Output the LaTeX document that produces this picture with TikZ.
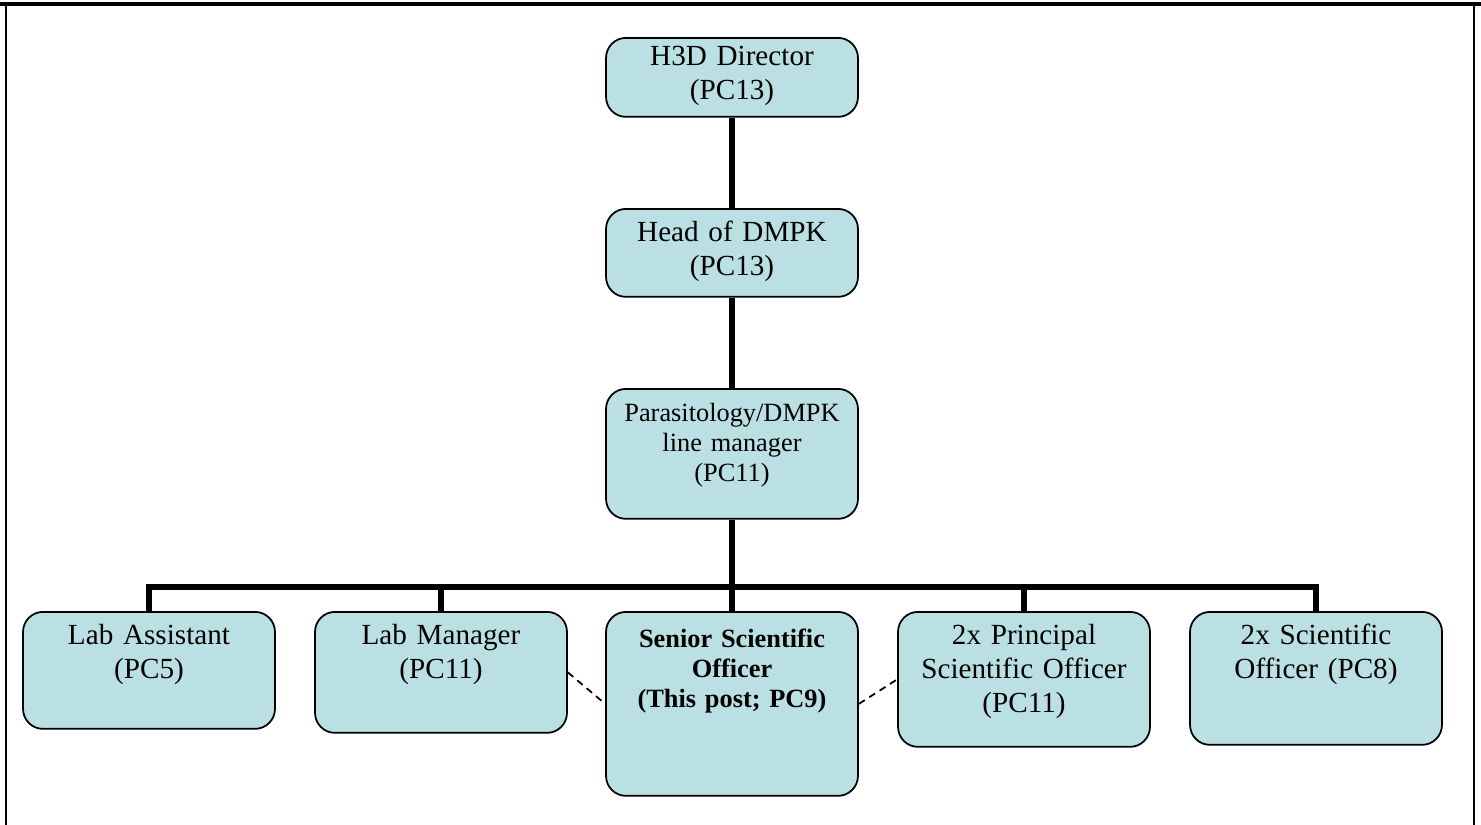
\documentclass[tikz,border=0pt]{standalone}
\usepackage{fontspec}
\setmainfont{Liberation Serif}
\usetikzlibrary{calc}

\definecolor{postfill}{RGB}{187,224,227}

\begin{document}
\begin{tikzpicture}[x=0.02cm,y=-0.02cm,
  post/.style={draw=black,line width=1pt,fill=postfill,rounded corners=0.4cm,
    anchor=north,text width=4.84cm,align=center,inner xsep=0.1cm,inner ysep=0pt,
    text height=0.66cm,font=\fontsize{16.6}{19.3}\selectfont},
  tight/.style={font=\fontsize{15}{17}\selectfont},
  tree/.style={line width=3pt},
  link/.style={line width=1pt,dash pattern=on 4pt off 3pt}]
\useasboundingbox (0,0) rectangle (1481,825);

% Define column and row positions (pixels of the page)
\def\colA{149}
\def\colB{441}
\def\colC{732}
\def\colD{1024}
\def\colE{1316}
\def\rowkids{611}

% Page frame
\draw[line width=2.4pt] (0,4) -- (1481,4);
\draw[line width=1pt] (6,4) -- (6,825);
\draw[line width=1pt] (1474,4) -- (1474,825);

% Top of the line
\node[post,text height=0.56cm,text depth=1.02cm] (dir) at (\colC,37) {H3D Director\\(PC13)};
\node[post,text depth=1.10cm] (head) at (\colC,208) {Head of DMPK\\(PC13)};
\node[post,tight,text depth=1.94cm] (para) at (\colC,388) {Parasitology/DMPK\\line manager\\(PC11)};

% Staff reporting to the line manager
\node[post,text depth=1.68cm] (la) at (\colA,\rowkids) {Lab Assistant\\(PC5)};
\node[post,text depth=1.76cm] (lm) at (\colB,\rowkids) {Lab Manager\\(PC11)};
\node[post,tight,text height=0.72cm,text depth=2.96cm] (sso) at (\colC,\rowkids)
  {\textbf{Senior Scientific}\\\textbf{Officer}\\\textbf{(This post; PC9)}};
\node[post,text depth=2.04cm] (pso) at (\colD,\rowkids) {2x Principal\\Scientific Officer\\(PC11)};
\node[post,text depth=2.00cm] (so) at (\colE,\rowkids) {2x Scientific\\Officer (PC8)};

% Reporting lines
\coordinate (bus) at (\colC,587);
\draw[tree] (dir.south) -- (head.north);
\draw[tree] (head.south) -- (para.north);
\draw[tree] (para.south) -- (sso.north);
\draw[tree] (la.north) |- (bus) -| (so.north);
\foreach \n in {lm,pso}
  \draw[tree] (\n.north) -- (\n.north |- bus);

% Working links
\draw[link] (lm.east) -- (sso.west);
\draw[link] (sso.east) -- (pso.west);

\end{tikzpicture}
\end{document}
